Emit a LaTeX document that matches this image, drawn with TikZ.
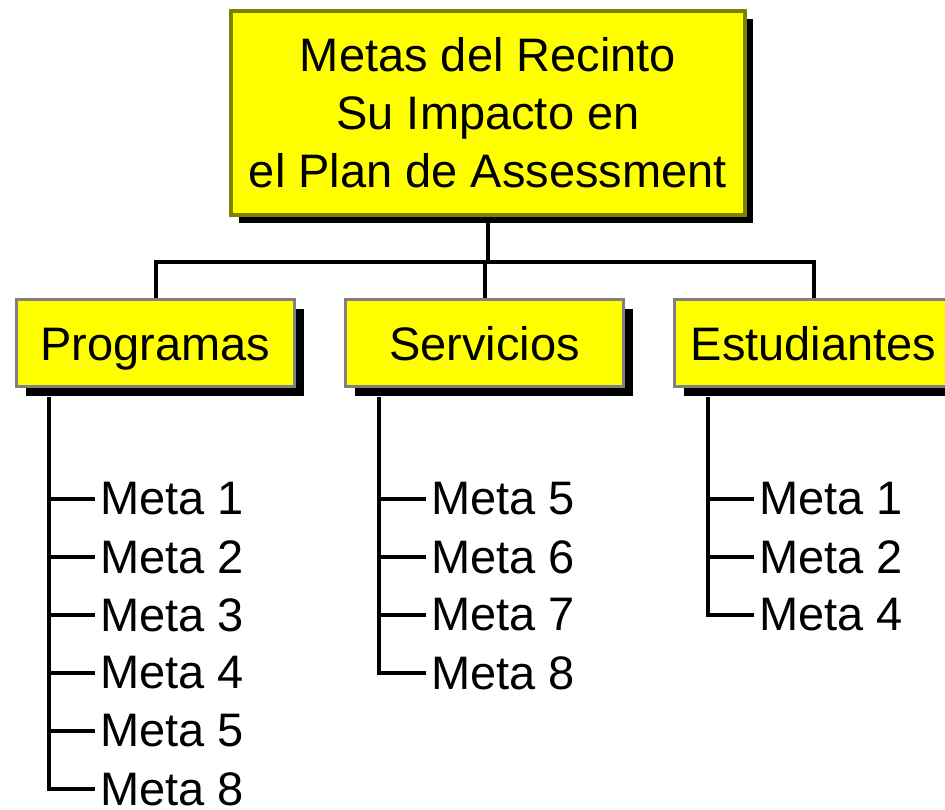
\documentclass[tikz,border=0pt]{standalone}
\usepackage{fontspec}
\setmainfont{Liberation Sans}
\usetikzlibrary{shadows}
\definecolor{boxyellow}{HTML}{FFFF00}
\definecolor{boxolive}{HTML}{808000}
\definecolor{boxgray}{HTML}{808080}
\tikzset{
  topbox/.style={draw=boxolive, line width=4pt, fill=boxyellow, inner sep=0pt,
    minimum width=514pt, minimum height=204pt, align=center,
    font=\fontsize{47}{58}\selectfont,
    drop shadow={shadow xshift=8pt, shadow yshift=-8pt, opacity=1, fill=black}},
  catbox/.style={draw=boxgray, line width=3.5pt, fill=boxyellow, inner sep=0pt,
    minimum width=278pt, minimum height=87pt, text height=34pt, text depth=0pt,
    font=\fontsize{47}{58}\selectfont,
    drop shadow={shadow xshift=9pt, shadow yshift=-9pt, opacity=1, fill=black}},
  metanode/.style={anchor=west, inner sep=0pt, outer xsep=5pt,
    font=\fontsize{47}{58}\selectfont},
  conn/.style={line width=4pt, black}
}
\begin{document}
\begin{tikzpicture}[x=1pt, y=-1pt]
\useasboundingbox (0,0) rectangle (945,809);
% top box
\node[topbox] (top) at (488,113) {Metas del Recinto\\Su Impacto en\\el Plan de Assessment};
% category boxes
\node[catbox] (prog) at (155.5,343) {Programas};
\node[catbox] (serv) at (484.5,343) {Servicios};
\node[catbox] (est) at (813.5,343) {Estudiantes};
% tree connectors
\coordinate (hub) at (488,262);
\draw[conn] (top.south) -- (hub);
\draw[conn] (prog.north) |- (hub) -| (est.north);
\draw[conn] (serv.north) -- (serv.north |- hub);
% Programas list
\coordinate (pv) at (49,397);
\foreach \i/\t/\y in {1/1/499,2/2/557,3/3/615,4/4/673,5/5/731,6/8/789}{
  \node[metanode] (p\i) at (95,\y) {Meta \t};
}
\draw[conn] (pv) |- (p6.west);
\foreach \i in {1,...,5}{ \draw[conn] (pv |- p\i.west) -- (p\i.west); }
% Servicios list
\coordinate (sv) at (379,397);
\foreach \i/\t/\y in {1/5/499,2/6/557,3/7/615,4/8/673}{
  \node[metanode] (s\i) at (426,\y) {Meta \t};
}
\draw[conn] (sv) |- (s4.west);
\foreach \i in {1,...,3}{ \draw[conn] (sv |- s\i.west) -- (s\i.west); }
% Estudiantes list
\coordinate (ev) at (708,397);
\foreach \i/\t/\y in {1/1/499,2/2/557,3/4/615}{
  \node[metanode] (e\i) at (754,\y) {Meta \t};
}
\draw[conn] (ev) |- (e3.west);
\foreach \i in {1,...,2}{ \draw[conn] (ev |- e\i.west) -- (e\i.west); }
\end{tikzpicture}
\end{document}
